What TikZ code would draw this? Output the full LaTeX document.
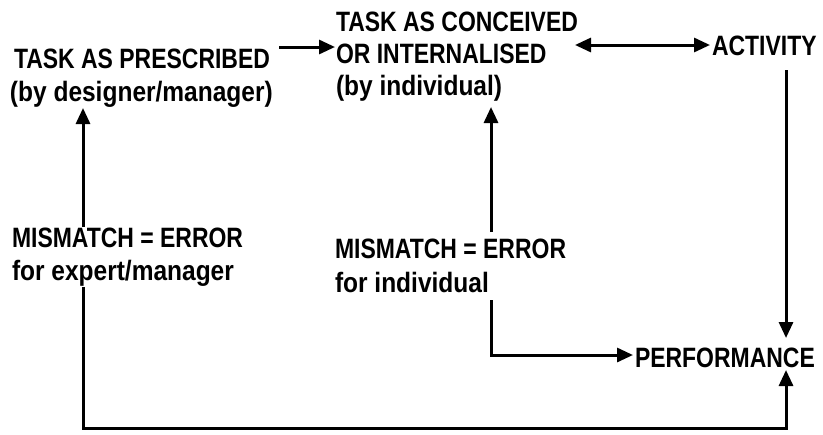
\documentclass[tikz,border=0pt]{standalone}
\usepackage{fontspec}
\setmainfont{Liberation Sans}
\newfontfamily\capf[FakeStretch=0.82]{Liberation Sans}
\newfontfamily\lowf[FakeStretch=0.875]{Liberation Sans}
\usetikzlibrary{arrows.meta}
\begin{document}
\begin{tikzpicture}[x=0.5pt,y=-0.5pt,
  lbl/.style={anchor=base west,inner sep=0pt,outer sep=0pt},
  caps/.style={lbl,font=\capf\bfseries\fontsize{14pt}{16pt}\selectfont},
  lower/.style={lbl,font=\lowf\bfseries\fontsize{14pt}{16pt}\selectfont},
  conn/.style={line width=1.5pt},
  tip/.tip={Triangle[length=8pt,width=7pt]},
  arr/.style={conn,-tip},
  darr/.style={conn,tip-tip}]
\useasboundingbox (0,0) rectangle (823,434);
% texts
\node[caps]  (p1) at (14,68)  {TASK AS PRESCRIBED};
\node[lower] (p2) at (10,101) {(by designer/manager)};
\node[caps]  (c1) at (336,31) {TASK AS CONCEIVED};
\node[caps]  (c2) at (336,63) {OR INTERNALISED};
\node[lower] (c3) at (336,95) {(by individual)};
\node[caps]  (act) at (712,55) {ACTIVITY};
\node[caps]  (perf) at (635,367) {PERFORMANCE};
\node[caps]  (m1) at (12,247) {MISMATCH = ERROR};
\node[lower] (m2) at (12,280) {for expert/manager};
\node[caps]  (n1) at (335,258) {MISMATCH = ERROR};
\node[lower] (n2) at (335,292) {for individual};
% connector points
\coordinate (a1s) at (279,47);
\coordinate (a1e) at (335,47);
\coordinate (d1) at (575,45);
\coordinate (d2) at (710,45);
\coordinate (r1) at (786,70);
\coordinate (r2) at (786,338);
\coordinate (mt) at (491,107);
\coordinate (mu) at (491,232);
\coordinate (ml) at (491,300);
\coordinate (mc) at (491,355);
\coordinate (me) at (633,355);
\coordinate (lt) at (83,108);
\coordinate (lu) at (83,227);
\coordinate (ll) at (83,287);
\coordinate (lc) at (83,428);
\coordinate (rc) at (786,428);
\coordinate (re) at (786,370);
% connectors
\draw[arr] (a1s) -- (a1e);
\draw[darr] (d1) -- (d2);
\draw[arr] (r1) -- (r2);
\draw[arr] (mu) -- (mt);
\draw[arr] (ml) -- (mc) -- (me);
\draw[arr] (lu) -- (lt);
\draw[arr] (ll) -- (lc) -- (rc) -- (re);
\end{tikzpicture}
\end{document}
